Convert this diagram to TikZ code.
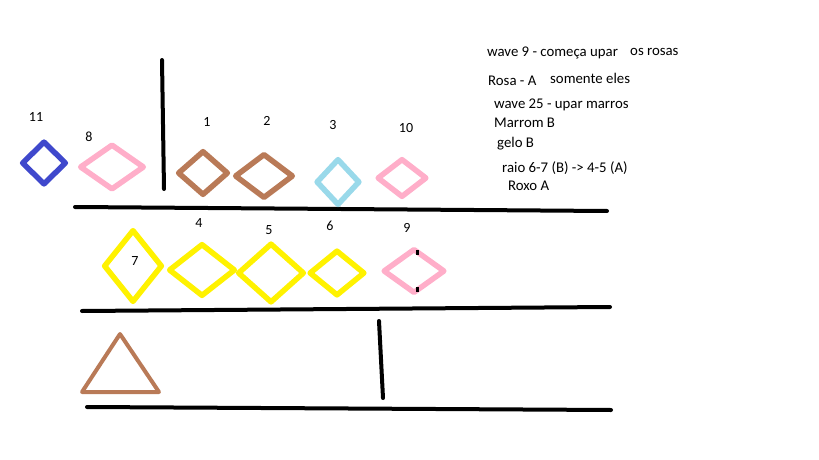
\documentclass[tikz,border=0pt]{standalone}
\usepackage{fontspec}
\setmainfont{Carlito}
\usetikzlibrary{shapes.geometric}

\definecolor{roxo}{HTML}{3F48CC}
\definecolor{rosa}{HTML}{FFAEC9}
\definecolor{marrom}{HTML}{B97A57}
\definecolor{gelo}{HTML}{99D9EA}
\definecolor{amarelo}{HTML}{FFF200}

\tikzset{
  losango/.style={diamond, draw=#1, line width=5.5pt, line join=round, inner sep=0pt},
  numero/.style={font=\fontsize{14}{16}\selectfont, inner sep=0pt},
  nota/.style={font=\fontsize{14.8}{17}\selectfont, anchor=base west, inner sep=0pt},
  linha/.style={line width=4pt, line cap=round},
}

\begin{document}
\begin{tikzpicture}[x=1pt, y=-1pt]
\useasboundingbox (0,0) rectangle (819,460);

% Linhas do mapa
\draw[linha] (75,207) -- (607,211);
\draw[linha] (82,311) -- (610,307);
\draw[linha] (87,407) -- (611,410);
\draw[linha] (162,60) -- (164,189);
\draw[linha] (379,321) -- (383,398);

% Primeira fileira
\node[losango=roxo, minimum width=45pt, minimum height=44pt] (d11) at (44,163) {};
\node[losango=rosa, minimum width=65pt, minimum height=46pt] (d8) at (112,167) {};
\node[losango=marrom, minimum width=51pt, minimum height=45pt] (d1) at (203,173) {};
\node[losango=marrom, minimum width=59pt, minimum height=45pt] (d2) at (264,176) {};
\node[losango=gelo, minimum width=44pt, minimum height=47pt] (d3) at (338,182) {};
\node[losango=rosa, minimum width=50pt, minimum height=39pt] (d10) at (402,178) {};

\node[numero] (n11) at (36,117) {11};
\node[numero] (n8) at (89,137) {8};
\node[numero] (n1) at (207,122) {1};
\node[numero] (n2) at (267,121) {2};
\node[numero] (n3) at (333,125) {3};
\node[numero] (n10) at (406,128) {10};

% Segunda fileira
\node[losango=amarelo, minimum width=59pt, minimum height=73pt] (d7) at (133,266) {};
\node[losango=amarelo, minimum width=67pt, minimum height=53pt] (d4) at (202,270) {};
\node[losango=amarelo, minimum width=67pt, minimum height=60pt] (d5) at (271,273) {};
\node[losango=amarelo, minimum width=56pt, minimum height=46pt] (d6) at (337,273) {};
\node[losango=rosa, minimum width=62pt, minimum height=45pt] (d9) at (414,271) {};
\fill (416,250) rectangle (419,255);
\fill (416,287) rectangle (419,292);

\node[numero] (n7) at (135,261) {7};
\node[numero] (n4) at (199,223) {4};
\node[numero] (n5) at (269,230) {5};
\node[numero] (n6) at (330,226) {6};
\node[numero] (n9) at (407,228) {9};

% Terceira fileira
\draw[marrom, line width=4pt, line join=round] (120,334) -- (82,392) -- (159,392) -- cycle;

% Anotacoes
\node[nota] (t1) at (487,57) {wave 9 - começa upar};
\node[nota] (t2) at (630,56) {os rosas};
\node[nota] (t3) at (488,85) {Rosa - A};
\node[nota] (t4) at (550,84) {somente eles};
\node[nota] (t5) at (494,108) {wave 25 - upar marros};
\node[nota] (t6) at (494,127) {Marrom B};
\node[nota] (t7) at (497,147) {gelo B};
\node[nota] (t8) at (502,172) {raio 6-7 (B) -> 4-5 (A)};
\node[nota] (t9) at (508,190) {Roxo A};
\end{tikzpicture}
\end{document}
